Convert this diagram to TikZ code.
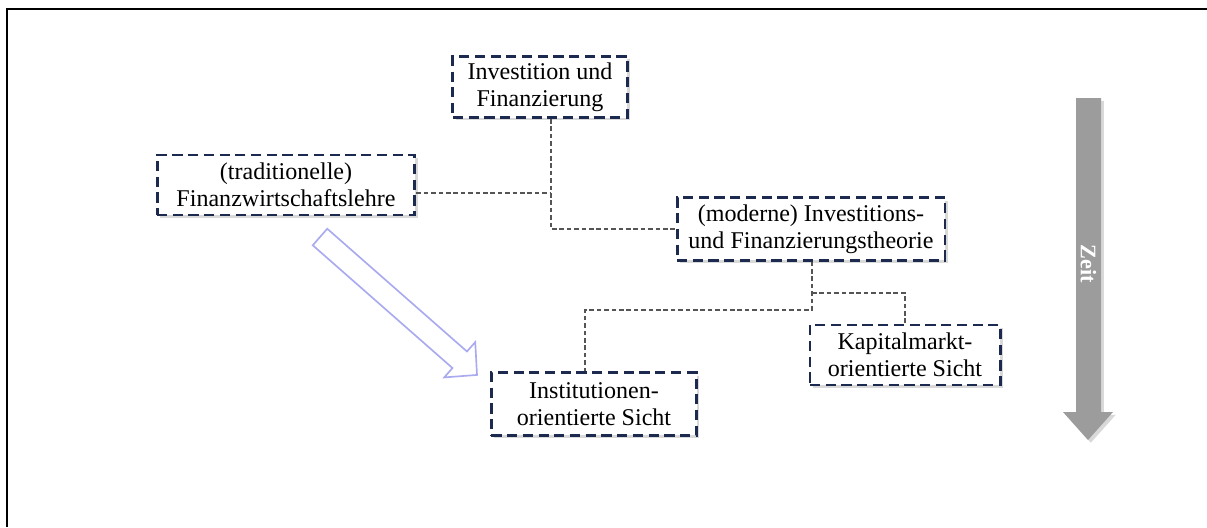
\documentclass[tikz,border=0pt]{standalone}
\usepackage{fontspec}
\setmainfont{Liberation Serif}
\usetikzlibrary{shadows}

\definecolor{boxnavy}{HTML}{1B2A4E}
\definecolor{linkgray}{HTML}{555555}
\definecolor{hollowblue}{HTML}{AAAAF0}
\definecolor{zeitgray}{HTML}{9C9C9C}

\begin{document}
\begin{tikzpicture}[x=0.019cm,y=-0.019cm,
  box/.style={draw=boxnavy, line width=1.6pt, dash pattern=on 5.5pt off 3pt,
    fill=white, align=center, inner sep=0pt,
    font=\fontsize{13}{14.5}\selectfont,
    drop shadow={shadow xshift=1.5pt, shadow yshift=-1.5pt, opacity=0.3}},
  link/.style={draw=linkgray, line width=0.6pt, dash pattern=on 2.5pt off 1.5pt}]
  % Fix page size
  \useasboundingbox (0,0) rectangle (1207,527);

  % Frame (only top and left edge visible)
  \draw[line width=1pt] (7,527) -- (7,9) -- (1207,9);

  % Boxes
  \node[box, minimum width=3.31cm, minimum height=1.16cm] (invfin) at (540,87)
    {Investition und\\Finanzierung};
  \node[box, minimum width=4.9cm, minimum height=1.14cm] (trad) at (286,185)
    {(traditionelle)\\Finanzwirtschaftslehre};
  \node[box, minimum width=5.09cm, minimum height=1.18cm] (moderne) at (811,229)
    {(moderne) Investitions-\\und Finanzierungstheorie};
  \node[box, minimum width=3.61cm, minimum height=1.14cm] (kapital) at (905,355)
    {Kapitalmarkt-\\orientierte Sicht};
  \node[box, minimum width=3.9cm, minimum height=1.18cm] (inst) at (594,404)
    {Institutionen-\\orientierte Sicht};

  % Junctions of the dashed links
  \coordinate (j1) at (551,193);
  \coordinate (j2) at (812,293);
  \coordinate (j3) at (812,310);
  \coordinate (j4) at (585,310);

  % Dashed links
  \draw[link] (invfin.south -| j1) -- (j1 |- moderne.west) -- (moderne.west);
  \draw[link] (trad.east |- j1) -- (j1);
  \draw[link] (moderne.south -| j2) -- (j3) -- (j4) -- (j4 |- inst.north);
  \draw[link] (j2) -- (j2 -| kapital.north) -- (kapital.north);

  % Hollow arrow
  \begin{scope}[shift={(320,237)}, rotate=-41.3]
    \draw[hollowblue, line width=0.9pt, line join=miter]
      (0,-11) -- (186,-11) -- (186,-23.5) -- (209,0) -- (186,23.5)
      -- (186,11) -- (0,11) -- cycle;
  \end{scope}

  % Time arrow
  \fill[zeitgray, drop shadow={shadow xshift=1.5pt, shadow yshift=-1.5pt, opacity=0.3}]
    (1076,98) -- (1101,98) -- (1101,412) -- (1113,412) -- (1088,440)
    -- (1063,412) -- (1076,412) -- cycle;
  \node[rotate=-90, text=white, font=\fontsize{12}{14}\selectfont\bfseries] (zeit)
    at (1088.5,264) {Zeit};
\end{tikzpicture}
\end{document}
